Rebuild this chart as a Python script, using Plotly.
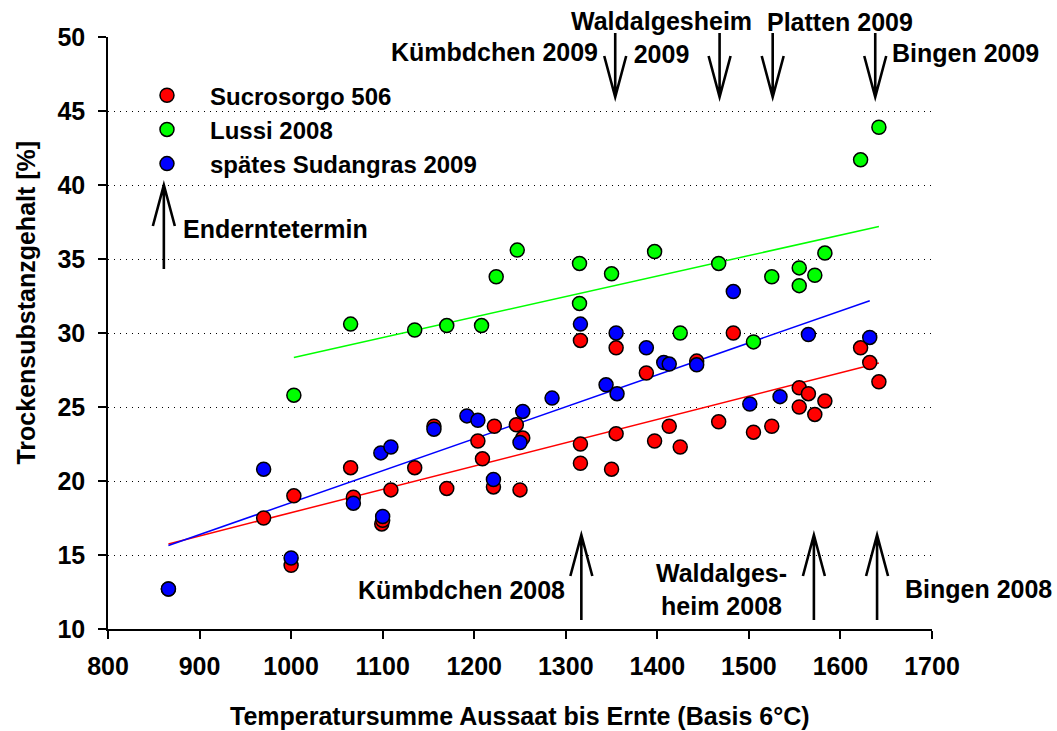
import numpy as np
import plotly.graph_objects as go

# Temperature sum sowing-to-harvest (base 6 °C) and dry matter content [%]
sucro_x = [866, 970, 1000, 1003, 1065, 1068, 1099, 1100, 1109, 1135, 1156, 1170, 1204, 1209,
           1221, 1222, 1246, 1250, 1253, 1316, 1316, 1316, 1350, 1355, 1355, 1388, 1397, 1413,
           1425, 1443, 1467, 1483, 1505, 1525, 1555, 1555, 1565, 1572, 1583, 1622, 1632, 1642]
sucro_y = [12.7, 17.5, 14.3, 19.0, 20.9, 18.9, 17.1, 17.35, 19.4, 20.9, 23.7, 19.5, 22.7, 21.5,
           19.6, 23.7, 23.8, 19.4, 22.9, 29.5, 22.5, 21.2, 20.8, 29.0, 23.2, 27.3, 22.7, 23.7,
           22.3, 28.1, 24.0, 30.0, 23.3, 23.7, 26.3, 25.0, 25.9, 24.5, 25.4, 29.0, 28.0, 26.7]

lussi_x = [1003, 1065, 1135, 1170, 1208, 1224, 1247, 1315, 1315, 1350, 1397, 1425, 1467, 1505,
           1525, 1555, 1555, 1572, 1583, 1622, 1642]
lussi_y = [25.8, 30.6, 30.2, 30.5, 30.5, 33.8, 35.6, 34.7, 32.0, 34.0, 35.5, 30.0, 34.7, 29.4,
           33.8, 34.4, 33.2, 33.9, 35.4, 41.7, 43.9]

sudan_x = [866, 970, 1000, 1068, 1098, 1100, 1109, 1156, 1192, 1204, 1221, 1250, 1253, 1285,
           1316, 1344, 1355, 1356, 1388, 1407, 1413, 1443, 1483, 1501, 1534, 1565, 1632]
sudan_y = [12.7, 20.8, 14.8, 18.5, 21.9, 17.6, 22.3, 23.5, 24.4, 24.1, 20.1, 22.6, 24.7, 25.6,
           30.6, 26.5, 30.0, 25.9, 29.0, 28.0, 27.9, 27.85, 32.8, 25.2, 25.7, 29.9, 29.7]

series_names = ["Sucrosorgo 506", "Lussi 2008", "spätes Sudangras 2009"]
series_colors = ["#ff0000", "#00ff00", "#0000ff"]

# Harvest dates (temperature sum) marked with arrows
harvest_2009_x = [1354, 1468, 1526, 1638]     # Kümbdchen, Waldalgesheim, Platten, Bingen
harvest_2008_x = [1317, 1571, 1640]           # Kümbdchen, Waldalgesheim, Bingen
first_harvest_x = 861                          # Enderntetermin

x_ticks = [800, 900, 1000, 1100, 1200, 1300, 1400, 1500, 1600, 1700]
y_ticks = [10, 15, 20, 25, 30, 35, 40, 45, 50]

FONT = "Liberation Sans, Arial, sans-serif"
FS = 25


def bold(size=FS):
    return dict(family=FONT, size=size, color="black", weight="bold")


fig = go.Figure()

series = [(sucro_x, sucro_y), (lussi_x, lussi_y), (sudan_x, sudan_y)]

# linear trend lines over each series' own range
for (xs, ys), col in zip(series, series_colors):
    k, d = np.polyfit(xs, ys, 1)
    xl = np.array([min(xs), max(xs)])
    fig.add_trace(go.Scatter(x=xl, y=k * xl + d, mode="lines",
                             line=dict(color=col, width=1.5),
                             showlegend=False, hoverinfo="skip"))

for (xs, ys), name, col in zip(series, series_names, series_colors):
    fig.add_trace(go.Scatter(x=xs, y=ys, mode="markers", name=name,
                             marker=dict(color=col, size=14, symbol="circle",
                                         line=dict(color="black", width=1.5))))

# open-headed arrows: x in data units, y in paper units
HEAD_DX = 12.0
HEAD_DY = 0.0693
shapes = []


def arrow(x, y_tail, y_tip):
    s = 1 if y_tip > y_tail else -1
    path = (f"M {x},{y_tail} L {x},{y_tip} "
            f"M {x - HEAD_DX},{y_tip - s * HEAD_DY} L {x},{y_tip} L {x + HEAD_DX},{y_tip - s * HEAD_DY}")
    shapes.append(dict(type="path", xref="x", yref="paper", path=path,
                       line=dict(color="black", width=2.6)))


for hx in harvest_2009_x:
    arrow(hx, 1.0068, 0.8986)
for hx in harvest_2008_x:
    arrow(hx, 0.0152, 0.1588)
arrow(first_harvest_x, 0.6081, 0.75)

labels = [
    ("Kümbdchen 2009", 0.5971, 0.9747, "right", "center"),
    ("Waldalgesheim<br>2009", 0.6723, 1.0, "center", "center"),
    ("Platten 2009", 0.8883, 1.0253, "center", "center"),
    ("Bingen 2009", 0.949, 0.973, "left", "left"),
    ("Enderntetermin", 0.0886, 0.6757, "left", "left"),
    ("Kümbdchen 2008", 0.557, 0.0659, "right", "center"),
    ("Waldalges-<br>heim 2008", 0.7451, 0.0667, "center", "center"),
    ("Bingen 2008", 0.9648, 0.0676, "left", "left"),
]
annotations = []
for txt, ax_, ay_, xa, al in labels:
    annotations.append(dict(text=txt, x=ax_, y=ay_, xref="paper", yref="paper",
                            xanchor=xa, yanchor="middle", align=al, showarrow=False,
                            font=bold()))

# axis titles
annotations.append(dict(text="Temperatursumme Aussaat bis Ernte (Basis 6°C)",
                        x=0.5, y=-0.147, xref="paper", yref="paper",
                        xanchor="center", yanchor="middle", showarrow=False,
                        font=bold()))
annotations.append(dict(text="Trockensubstanzgehalt [%]", textangle=-90,
                        x=-0.1007, y=0.5515, xref="paper", yref="paper",
                        xanchor="center", yanchor="middle", showarrow=False,
                        font=bold()))

fig.update_layout(
    width=1057, height=731,
    margin=dict(l=108, r=125, t=37, b=102),
    paper_bgcolor="white", plot_bgcolor="white",
    font=bold(),
    showlegend=True,
    legend=dict(x=0.0194, y=0.939, xanchor="left", yanchor="top",
                bgcolor="rgba(0,0,0,0)", itemwidth=76,
                font=bold(24)),
    shapes=shapes,
    annotations=annotations,
    xaxis=dict(range=[800, 1700], tickvals=x_ticks, ticktext=[str(v) for v in x_ticks],
               showgrid=False, zeroline=False, showline=True, linecolor="black", linewidth=1.5,
               ticks="outside", ticklen=8, tickwidth=1.5, tickcolor="black",
               ticklabelstandoff=6, tickfont=bold()),
    yaxis=dict(range=[10, 50], tickvals=y_ticks, ticktext=[str(v) for v in y_ticks],
               showgrid=True, gridcolor="black", gridwidth=1, griddash="1px,5px",
               zeroline=False, showline=True, linecolor="black", linewidth=1.5,
               ticks="outside", ticklen=8, tickwidth=1.5, tickcolor="black",
               ticklabelstandoff=8, tickfont=bold()),
)

fig.write_html("out.html")
